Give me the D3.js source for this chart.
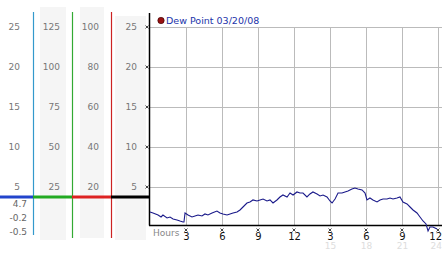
<!DOCTYPE html>
<html>
<head>
<meta charset="utf-8">
<script src="https://cdn.jsdelivr.net/npm/d3@7"></script>
<style>
  body { margin: 0; background: #fff; }
  text { font-family: "DejaVu Sans", Verdana, sans-serif; }
</style>
</head>
<body>
<div id="chart"></div>
<script>
// readings, hour of day vs dew point
const hours = [0, 0.25, 0.67, 0.92, 1.08, 1.42, 1.67, 1.92, 2.25, 2.5, 2.75, 2.83, 2.92, 3.17, 3.5, 3.75,
  4.0, 4.33, 4.58, 4.83, 5.17, 5.58, 5.83, 6.08, 6.42, 6.67, 6.92, 7.25, 7.5, 7.75, 8.08, 8.33,
  8.58, 8.92, 9.17, 9.42, 9.75, 10.0, 10.25, 10.58, 10.83, 11.08, 11.42, 11.67, 11.92, 12.25, 12.5,
  12.75, 13.08, 13.33, 13.58, 13.92, 14.17, 14.42, 14.75, 15.0, 15.17, 15.42, 15.67, 16.0, 16.25,
  16.5, 16.83, 17.08, 17.33, 17.67, 17.92, 18.08, 18.33, 18.58, 18.92, 19.17, 19.42, 19.75, 20.0,
  20.25, 20.58, 20.83, 21.08, 21.42, 21.67, 21.92, 22.25, 22.5, 22.75, 23.0, 23.17, 23.33, 23.58, 23.92];
const dewPoint = [1.88, 1.75, 1.5, 1.25, 1.5, 1.13, 1.25, 1.0, 0.88, 0.75, 0.63, 0.63, 1.75, 1.5, 1.25, 1.38,
  1.5, 1.38, 1.63, 1.5, 1.75, 2.0, 1.75, 1.63, 1.5, 1.63, 1.75, 1.88, 2.13, 2.5, 3.0, 3.13,
  3.38, 3.25, 3.38, 3.5, 3.25, 3.38, 3.0, 3.38, 3.75, 4.0, 3.75, 4.25, 4.0, 4.38, 4.25,
  4.25, 3.75, 4.13, 4.38, 4.13, 3.88, 4.0, 3.75, 3.25, 3.0, 3.5, 4.25, 4.25, 4.38,
  4.5, 4.75, 4.88, 4.75, 4.63, 4.25, 3.38, 3.63, 3.38, 3.13, 3.38, 3.5, 3.5, 3.63,
  3.5, 3.63, 3.75, 3.13, 2.88, 2.5, 2.13, 1.75, 1.25, 0.75, 0.38, -0.5, 0, 0, -0.25];

const xTicks = [3, 6, 9, 12, 15, 18, 21, 24];
const xTickLabels = ["3", "6", "9", "12", "3", "6", "9", "12"];
const xTickLabels2 = ["", "", "", "", "15", "18", "21", "24"];
const yTicks = [25, 20, 15, 10, 5];
const scale1Labels = [25, 20, 15, 10, 5];
const scale2Labels = [125, 100, 75, 50, 25];
const scale3Labels = [100, 80, 60, 40, 20];
const scale4Labels = [25, 20, 15, 10, 5];
const readouts = ["4.7", "-0.2", "-0.5"];
const legendLabel = "Dew Point 03/20/08";

const W = 442, H = 253;
const PLOT = { LEFT: 149, RIGHT: 442, TOP: 13, BOTTOM: 225 };
const BASE_Y = 197;

const x = d3.scaleLinear().domain([0, 24]).range([150, 438]);
const y = d3.scaleLinear().domain([0, 25]).range([227, 27]);

const svg = d3.select("#chart").append("svg")
  .attr("width", W).attr("height", H)
  .style("display", "block");

// left side panel: shaded columns
const columns = [
  { x0: 40, x1: 66, top: 7, bottom: 240 },
  { x0: 80, x1: 104, top: 7, bottom: 238 },
  { x0: 115, x1: 146, top: 16, bottom: 240 }
];
svg.selectAll("rect.col").data(columns).enter().append("rect")
  .attr("class", "col")
  .attr("x", d => d.x0).attr("y", d => d.top)
  .attr("width", d => d.x1 - d.x0).attr("height", d => d.bottom - d.top)
  .attr("fill", "#f5f5f5");

// column labels
const labelCols = [
  { vals: scale1Labels, xr: 20 },
  { vals: scale2Labels, xr: 60 },
  { vals: scale3Labels, xr: 99 },
  { vals: scale4Labels, xr: 137 }
];
labelCols.forEach(c => {
  svg.append("g").selectAll("text").data(c.vals).enter().append("text")
    .attr("x", c.xr)
    .attr("y", (d, i) => y(yTicks[i]) + 3)
    .attr("text-anchor", "end")
    .attr("font-size", 9)
    .attr("fill", "#777")
    .text(d => d);
});

// readouts under first column
svg.append("g").selectAll("text").data(readouts).enter().append("text")
  .attr("x", 27)
  .attr("y", (d, i) => 207 + i * 14)
  .attr("text-anchor", "end")
  .attr("font-size", 9)
  .attr("fill", "#666")
  .text(d => d);

// gridlines
const grid = svg.append("g").attr("stroke", "#bbb").attr("stroke-width", 1);
grid.selectAll("line.h").data(yTicks).enter().append("line")
  .attr("x1", PLOT.LEFT).attr("x2", PLOT.RIGHT)
  .attr("y1", d => Math.round(y(d)) + 0.5).attr("y2", d => Math.round(y(d)) + 0.5);
grid.selectAll("line.v").data(xTicks).enter().append("line")
  .attr("x1", d => Math.round(x(d)) + 0.5).attr("x2", d => Math.round(x(d)) + 0.5)
  .attr("y1", y(25)).attr("y2", PLOT.BOTTOM);

// vertical scale lines
const scaleLines = [
  { x: 33.5, color: "#3399cc", bottom: 235 },
  { x: 72.5, color: "#33aa33", bottom: 238 },
  { x: 111.5, color: "#cc2222", bottom: 238 }
];
svg.selectAll("line.sl").data(scaleLines).enter().append("line")
  .attr("x1", d => d.x).attr("x2", d => d.x)
  .attr("y1", 12).attr("y2", d => d.bottom)
  .attr("stroke", d => d.color).attr("stroke-width", 1.2);

// baseline segments
const baseSegs = [
  { x0: 0, x1: 33, color: "#2244cc" },
  { x0: 33, x1: 72, color: "#22aa22" },
  { x0: 72, x1: 111, color: "#dd2222" },
  { x0: 111, x1: 149, color: "#000" }
];
svg.selectAll("line.bs").data(baseSegs).enter().append("line")
  .attr("x1", d => d.x0).attr("x2", d => d.x1)
  .attr("y1", BASE_Y).attr("y2", BASE_Y)
  .attr("stroke", d => d.color).attr("stroke-width", 3);

// axes
svg.append("line")
  .attr("x1", PLOT.LEFT + 0.5).attr("x2", PLOT.LEFT + 0.5)
  .attr("y1", PLOT.TOP).attr("y2", PLOT.BOTTOM + 0.5)
  .attr("stroke", "#000").attr("stroke-width", 1.5);
svg.append("line")
  .attr("x1", PLOT.LEFT).attr("x2", PLOT.RIGHT)
  .attr("y1", PLOT.BOTTOM + 0.5).attr("y2", PLOT.BOTTOM + 0.5)
  .attr("stroke", "#000").attr("stroke-width", 1.5);

// tiny tick marks
const mark = (cx, cy) => `M${cx - 1.5},${cy - 1.5}L${cx + 1.5},${cy + 1.5}M${cx + 1.5},${cy - 1.5}L${cx - 1.5},${cy + 1.5}`;
svg.append("g").selectAll("path").data(yTicks).enter().append("path")
  .attr("d", d => mark(147, y(d)))
  .attr("stroke", "#333").attr("stroke-width", 0.9);
svg.append("g").selectAll("path").data(xTicks).enter().append("path")
  .attr("d", d => mark(x(d), 230))
  .attr("stroke", "#333").attr("stroke-width", 0.9);

// bottom axis labels (the last one is pulled in so it stays on the page)
const last = xTicks[xTicks.length - 1];
function styleTicks(g, size, color) {
  g.select(".domain").remove();
  g.selectAll("text").attr("font-size", size).attr("fill", color)
    .attr("font-family", "DejaVu Sans, Verdana, sans-serif").attr("dy", "0.71em").attr("y", 0);
  g.selectAll(".tick").filter(d => d === last).select("text")
    .attr("text-anchor", "end").attr("x", W - x(last) - 0.5);
}
const xAxis = d3.axisBottom(x).tickValues(xTicks).tickSize(0)
  .tickFormat((d, i) => xTickLabels[i]);
svg.append("g").attr("transform", "translate(0, 233)").call(xAxis).call(styleTicks, 10, "#111");

const xAxis2 = d3.axisBottom(x).tickValues(xTicks).tickSize(0)
  .tickFormat((d, i) => xTickLabels2[i]);
svg.append("g").attr("transform", "translate(0, 243)").call(xAxis2).call(styleTicks, 9, "#ddd");

svg.append("text")
  .attr("x", 153).attr("y", 236)
  .attr("font-size", 9).attr("fill", "#888")
  .text("Hours");

// dew point line
const line = d3.line().x((d, i) => x(hours[i])).y(d => y(d));
svg.append("path")
  .datum(dewPoint)
  .attr("d", line)
  .attr("fill", "none")
  .attr("stroke", "#1a1a8a")
  .attr("stroke-width", 1.1);

// legend
svg.append("circle")
  .attr("cx", 161).attr("cy", 20.5).attr("r", 3.2)
  .attr("fill", "#991111").attr("stroke", "#330000").attr("stroke-width", 0.6);
svg.append("text")
  .attr("x", 166).attr("y", 24)
  .attr("font-size", 9.5).attr("fill", "#2233aa")
  .text(legendLabel);
</script>
</body>
</html>
